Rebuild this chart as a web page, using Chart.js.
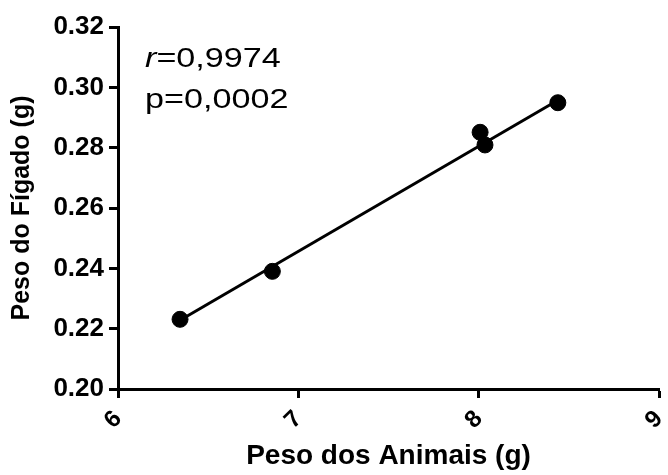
<!DOCTYPE html>
<html>
<head>
<meta charset="utf-8">
<script src="https://cdn.jsdelivr.net/npm/chart.js@4"></script>
<style>
  html, body { margin: 0; padding: 0; background: #fff; }
  #wrap { width: 668px; height: 475px; }
</style>
</head>
<body>
<div id="wrap"><canvas id="chart"></canvas></div>
<script>
// ── Data ──────────────────────────────────────────────────────────────────────
const animalWeight = [6.344, 6.856, 8.008, 8.035, 8.439];   // g
const liverWeight  = [0.2231, 0.2390, 0.2851, 0.2809, 0.2949]; // g
const fitX = [6.344, 8.439];
const fitY = [0.2228, 0.2957];
const xTicks = [6, 7, 8, 9];
const yTicks = [0.20, 0.22, 0.24, 0.26, 0.28, 0.30, 0.32];
const statR = '0,9974';
const statP = '0,0002';

const FONT = "Arial, 'Liberation Sans', Helvetica, sans-serif";

// ── Stats label (text is a bit wide in the original, so stretch it) ──────────
const statsLabel = {
  id: 'statsLabel',
  afterDraw(chart) {
    const ctx = chart.ctx;
    ctx.save();
    ctx.translate(145, 0);
    ctx.scale(1.22, 1);
    ctx.fillStyle = '#000';
    ctx.textBaseline = 'alphabetic';
    ctx.textAlign = 'left';
    ctx.font = `italic 28px ${FONT}`;
    ctx.fillText('r', 0, 67);
    const rw = ctx.measureText('r').width;
    ctx.font = `28px ${FONT}`;
    ctx.fillText('=' + statR, rw, 67);
    ctx.fillText('p=' + statP, 0, 108);
    ctx.restore();
  },
};

new Chart(document.getElementById('chart'), {
  type: 'scatter',
  data: {
    datasets: [
      {
        data: animalWeight.map((x, i) => ({ x, y: liverWeight[i] })),
        backgroundColor: '#000',
        borderColor: '#000',
        pointRadius: 8,
        pointHoverRadius: 8,
      },
      {
        type: 'line',
        data: fitX.map((x, i) => ({ x, y: fitY[i] })),
        borderColor: '#000',
        borderWidth: 3,
        pointRadius: 0,
        fill: false,
      },
    ],
  },
  options: {
    responsive: true, maintainAspectRatio: false,
    animation: false,
    layout: { padding: { top: 27, right: 3, left: 0, bottom: 0 } },
    plugins: { legend: { display: false }, tooltip: { enabled: false } },
    scales: {
      x: {
        type: 'linear', min: 6, max: 9,
        afterBuildTicks: s => { s.ticks = xTicks.map(v => ({ value: v })); },
        afterFit: s => { s.height = 86; s.paddingLeft = 0; s.paddingRight = 0; },
        border: { color: '#000', width: 3 },
        grid: { drawOnChartArea: false, tickLength: 9, tickWidth: 3, tickColor: '#000' },
        ticks: {
          color: '#000', padding: 7, minRotation: 45, maxRotation: 45,
          font: { family: FONT, size: 24, weight: 'bold' },
        },
        title: {
          display: true, text: 'Peso dos Animais (g)', color: '#000',
          padding: { top: 0, bottom: 2 },
          font: { family: FONT, size: 28, weight: 'bold' },
        },
      },
      y: {
        type: 'linear', min: 0.20, max: 0.32,
        afterBuildTicks: s => { s.ticks = yTicks.map(v => ({ value: v })); },
        afterFit: s => { s.width = 118; },
        border: { color: '#000', width: 3 },
        grid: { drawOnChartArea: false, tickLength: 9, tickWidth: 3, tickColor: '#000' },
        ticks: {
          color: '#000', padding: 5,
          callback: v => v.toFixed(2),
          font: { family: FONT, size: 26, weight: 'bold' },
        },
        title: {
          display: true, text: 'Peso do Fígado (g)', color: '#000',
          padding: { top: 7, bottom: 0 },
          font: { family: FONT, size: 25, weight: 'bold' },
        },
      },
    },
  },
  plugins: [statsLabel],
});
</script>
</body>
</html>
